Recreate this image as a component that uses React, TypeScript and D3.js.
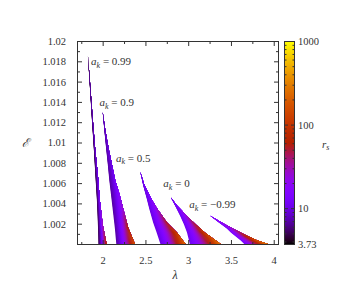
import React from "react";
import * as d3 from "d3";

// spin labels
const spinLabels = ["0.99", "0.9", "0.5", "0", "\u22120.99"];

// a_k = 0.99
const energyA = [1.01885, 1.01616, 1.01222, 1.00926, 1.0068, 1.00433, 1.00187, 1.0];
const lamLowA = [1.820, 1.840, 1.869, 1.892, 1.909, 1.927, 1.939, 1.944];
const lamHighA = [1.820, 1.845, 1.880, 1.909, 1.939, 1.962, 1.997, 2.043];
const rsHighA = [7, 8, 9, 10, 12, 16, 35, 100];
const rsLowA = 5;

// a_k = 0.9
const energyB = [1.0131, 1.01123, 1.00926, 1.00798, 1.00631, 1.00502, 1.00335, 1.00167, 1.0];
const lamLowB = [1.994, 2.014, 2.037, 2.053, 2.072, 2.090, 2.113, 2.136, 2.154];
const lamHighB = [1.994, 2.026, 2.069, 2.101, 2.142, 2.189, 2.241, 2.293, 2.375];
const rsHighB = [8, 9, 10, 11, 13, 18, 30, 70, 180];
const rsLowB = 7;

// a_k = 0.5
const energyC = [1.00719, 1.00581, 1.00453, 1.00355, 1.00217, 1.00118, 1.0];
const lamLowC = [2.433, 2.468, 2.509, 2.538, 2.584, 2.625, 2.671];
const lamHighC = [2.433, 2.485, 2.561, 2.631, 2.747, 2.863, 2.968];
const rsHighC = [11, 12, 16, 25, 60, 120, 250];
const rsLowC = 10;

// a_k = 0
const energyD = [1.00466, 1.00384, 1.00286, 1.00197, 1.00118, 1.0];
const lamLowD = [2.790, 2.840, 2.898, 2.945, 2.980, 3.015];
const lamHighD = [2.790, 2.863, 2.976, 3.084, 3.189, 3.383];
const rsHighD = [12, 15, 28, 60, 120, 300];
const rsLowD = 11;

// a_k = -0.99
const energyE = [1.00286, 1.00217, 1.00158, 1.00118, 1.00079, 1.00039, 1.0];
const lamLowE = [3.247, 3.352, 3.445, 3.492, 3.550, 3.608, 3.655];
const lamHighE = [3.247, 3.387, 3.515, 3.608, 3.701, 3.806, 3.945];
const rsHighE = [18, 22, 32, 55, 110, 200, 380];
const rsLowE = 14;

const bands = [
  { e: energyA, lo: lamLowA, hi: lamHighA, rsHi: rsHighA, rsLo: rsLowA },
  { e: energyB, lo: lamLowB, hi: lamHighB, rsHi: rsHighB, rsLo: rsLowB },
  { e: energyC, lo: lamLowC, hi: lamHighC, rsHi: rsHighC, rsLo: rsLowC },
  { e: energyD, lo: lamLowD, hi: lamHighD, rsHi: rsHighD, rsLo: rsLowD },
  { e: energyE, lo: lamLowE, hi: lamHighE, rsHi: rsHighE, rsLo: rsLowE },
];

// label anchors (lambda, E) for the spin annotations
const labelAnchors: [number, number][] = [
  [1.859, 1.01764],
  [1.956, 1.01364],
  [2.15, 1.00813],
  [2.704, 1.00562],
  [3.007, 1.00355],
];

const rsTickLabels = ["3.73", "10", "100", "1000"];
const rsTicks = [3.73, 10, 100, 1000];

// gnuplot default palette (rgbformulae 7,5,15)
const palette = (t: number) => {
  const c = (v: number) => Math.round(255 * Math.max(0, Math.min(1, v)));
  return `rgb(${c(Math.sqrt(t))},${c(t * t * t)},${c(Math.sin(2 * Math.PI * t))})`;
};

const W = 356;
const H = 297;
const font = "Liberation Serif, serif";
const axisCol = "#333";
const txtCol = "#333";

export default function App() {
  const x = d3.scaleLinear().domain([1.7, 4.05]).range([77.5, 278.5]);
  const y = d3.scaleLinear().domain([1.0, 1.02]).range([244.5, 41.5]);
  const cNorm = d3.scaleLog().domain([3.73, 1000]).range([0, 1]).clamp(true);
  const cb = d3.scaleLog().domain([3.73, 1000]).range([244.5, 41.5]);
  const colorOf = (rs: number) => palette(cNorm(rs));

  const yMajor = d3.range(0, 11).map(i => 1 + i * 0.002);
  const yMinor = d3.range(0, 10).map(i => 1.001 + i * 0.002);
  const xMajor = [2, 2.5, 3, 3.5, 4];
  const xMinor = d3.range(7, 17).map(i => i * 0.25).filter(v => !xMajor.includes(v));
  const cbMinor = cb.ticks().filter(v => ![10, 100, 1000].includes(v));
  const fmt = d3.format("~g");

  const defs: React.ReactNode[] = [];
  const polys: React.ReactNode[] = [];
  const nStrips = 20;
  const power = 1.4;

  // each band is painted inner edge -> outer edge; every layer covers the rest
  // of the band so neighbouring layers overlap without seams
  bands.forEach((b, bi) => {
    const yTop = y(b.e[0]);
    const yBot = y(b.e[b.e.length - 1]);
    const at = (t: number) => b.e.map((e, j) => [x(b.lo[j] + (b.hi[j] - b.lo[j]) * t), y(e)] as [number, number]);
    const outer = at(1).reverse();
    for (let k = 0; k < nStrips; k++) {
      const t0 = k / nStrips;
      const tm = (k + 0.5) / nStrips;
      const id = `band-${bi}-${k}`;
      defs.push(
        <linearGradient key={id} id={id} gradientUnits="userSpaceOnUse" x1={0} x2={0} y1={yTop} y2={yBot}>
          {b.e.map((e, j) => {
            const rs = b.rsLo * Math.pow(b.rsHi[j] / b.rsLo, Math.pow(tm, power));
            return <stop key={j} offset={(y(e) - yTop) / (yBot - yTop)} stopColor={colorOf(rs)} />;
          })}
        </linearGradient>
      );
      const d = "M" + at(t0).concat(outer).map(p => p.join(",")).join("L") + "Z";
      polys.push(<path key={id} d={d} fill={`url(#${id})`} />);
    }
  });

  const cbStops = d3.range(41).map(i => i / 40);

  return (
    <svg width={W} height={H} fontFamily={font} fontSize={10.5}
      style={{ position: "absolute", left: 0, top: 0, background: "#fff" }}>
      <defs>
        {defs}
        <linearGradient id="cbar" x1={0} y1={1} x2={0} y2={0}>
          {cbStops.map(t => <stop key={t} offset={t} stopColor={palette(t)} />)}
        </linearGradient>
        <clipPath id="plot">
          <rect x={77.5} y={41.5} width={201} height={203} />
        </clipPath>
      </defs>

      <g clipPath="url(#plot)">{polys}</g>

      {/* frame */}
      <rect x={77.5} y={41.5} width={201} height={203} fill="none" stroke={axisCol} strokeWidth={1} />

      {/* y ticks */}
      {yMajor.map(v => (
        <g key={`ym${v}`}>
          <line x1={77.5} x2={82} y1={y(v)} y2={y(v)} stroke={axisCol} />
          <line x1={278.5} x2={274} y1={y(v)} y2={y(v)} stroke={axisCol} />
          {v > 1.0001 && (
            <text x={66} y={y(v)} dy="0.33em" textAnchor="end" fill={txtCol}>{fmt(+v.toFixed(3))}</text>
          )}
        </g>
      ))}
      {yMinor.map(v => (
        <g key={`yn${v}`}>
          <line x1={77.5} x2={80} y1={y(v)} y2={y(v)} stroke={axisCol} />
          <line x1={278.5} x2={276} y1={y(v)} y2={y(v)} stroke={axisCol} />
        </g>
      ))}

      {/* x ticks */}
      {xMajor.map(v => (
        <g key={`xm${v}`}>
          <line x1={x(v)} x2={x(v)} y1={244.5} y2={240} stroke={axisCol} />
          <line x1={x(v)} x2={x(v)} y1={41.5} y2={46} stroke={axisCol} />
          <text x={x(v)} y={264} textAnchor="middle" fill={txtCol}>{fmt(v)}</text>
        </g>
      ))}
      {xMinor.map(v => (
        <g key={`xn${v}`}>
          <line x1={x(v)} x2={x(v)} y1={244.5} y2={242} stroke={axisCol} />
          <line x1={x(v)} x2={x(v)} y1={41.5} y2={44} stroke={axisCol} />
        </g>
      ))}

      {/* axis titles */}
      <text x={25} y={147} textAnchor="middle" fontSize={12} fontStyle="italic" fill={txtCol}>{"\u2130"}</text>
      <text x={175} y={279} textAnchor="middle" fontStyle="italic" fontSize={12} fill={txtCol}>{"\u03bb"}</text>

      {/* spin labels */}
      {labelAnchors.map(([lx, ly], i) => (
        <text key={i} x={x(lx)} y={y(ly)} fill={txtCol} fontSize={11}>
          <tspan fontStyle="italic">a</tspan>
          <tspan fontStyle="italic" fontSize={8} dy={2.5}>k</tspan>
          <tspan dy={-2.5}>{` = ${spinLabels[i]}`}</tspan>
        </text>
      ))}

      {/* colour bar */}
      <rect x={284.5} y={41.5} width={10} height={203} fill="url(#cbar)" stroke={axisCol} strokeWidth={1} />
      {[10, 100, 1000].map(v => (
        <g key={`cm${v}`}>
          <line x1={284.5} x2={288} y1={cb(v)} y2={cb(v)} stroke={axisCol} />
          <line x1={294.5} x2={291} y1={cb(v)} y2={cb(v)} stroke={axisCol} />
        </g>
      ))}
      {cbMinor.map(v => (
        <g key={`cn${v}`}>
          <line x1={284.5} x2={286.5} y1={cb(v)} y2={cb(v)} stroke={axisCol} />
          <line x1={294.5} x2={292.5} y1={cb(v)} y2={cb(v)} stroke={axisCol} />
        </g>
      ))}
      {rsTicks.map((v, i) => (
        <text key={`cl${v}`} x={298} y={cb(v)} dy="0.33em" fill={txtCol}>{rsTickLabels[i]}</text>
      ))}
      <text x={322} y={148} fontStyle="italic" fill={txtCol} fontSize={11}>
        r<tspan fontSize={8} dy={2}>s</tspan>
      </text>
    </svg>
  );
}
